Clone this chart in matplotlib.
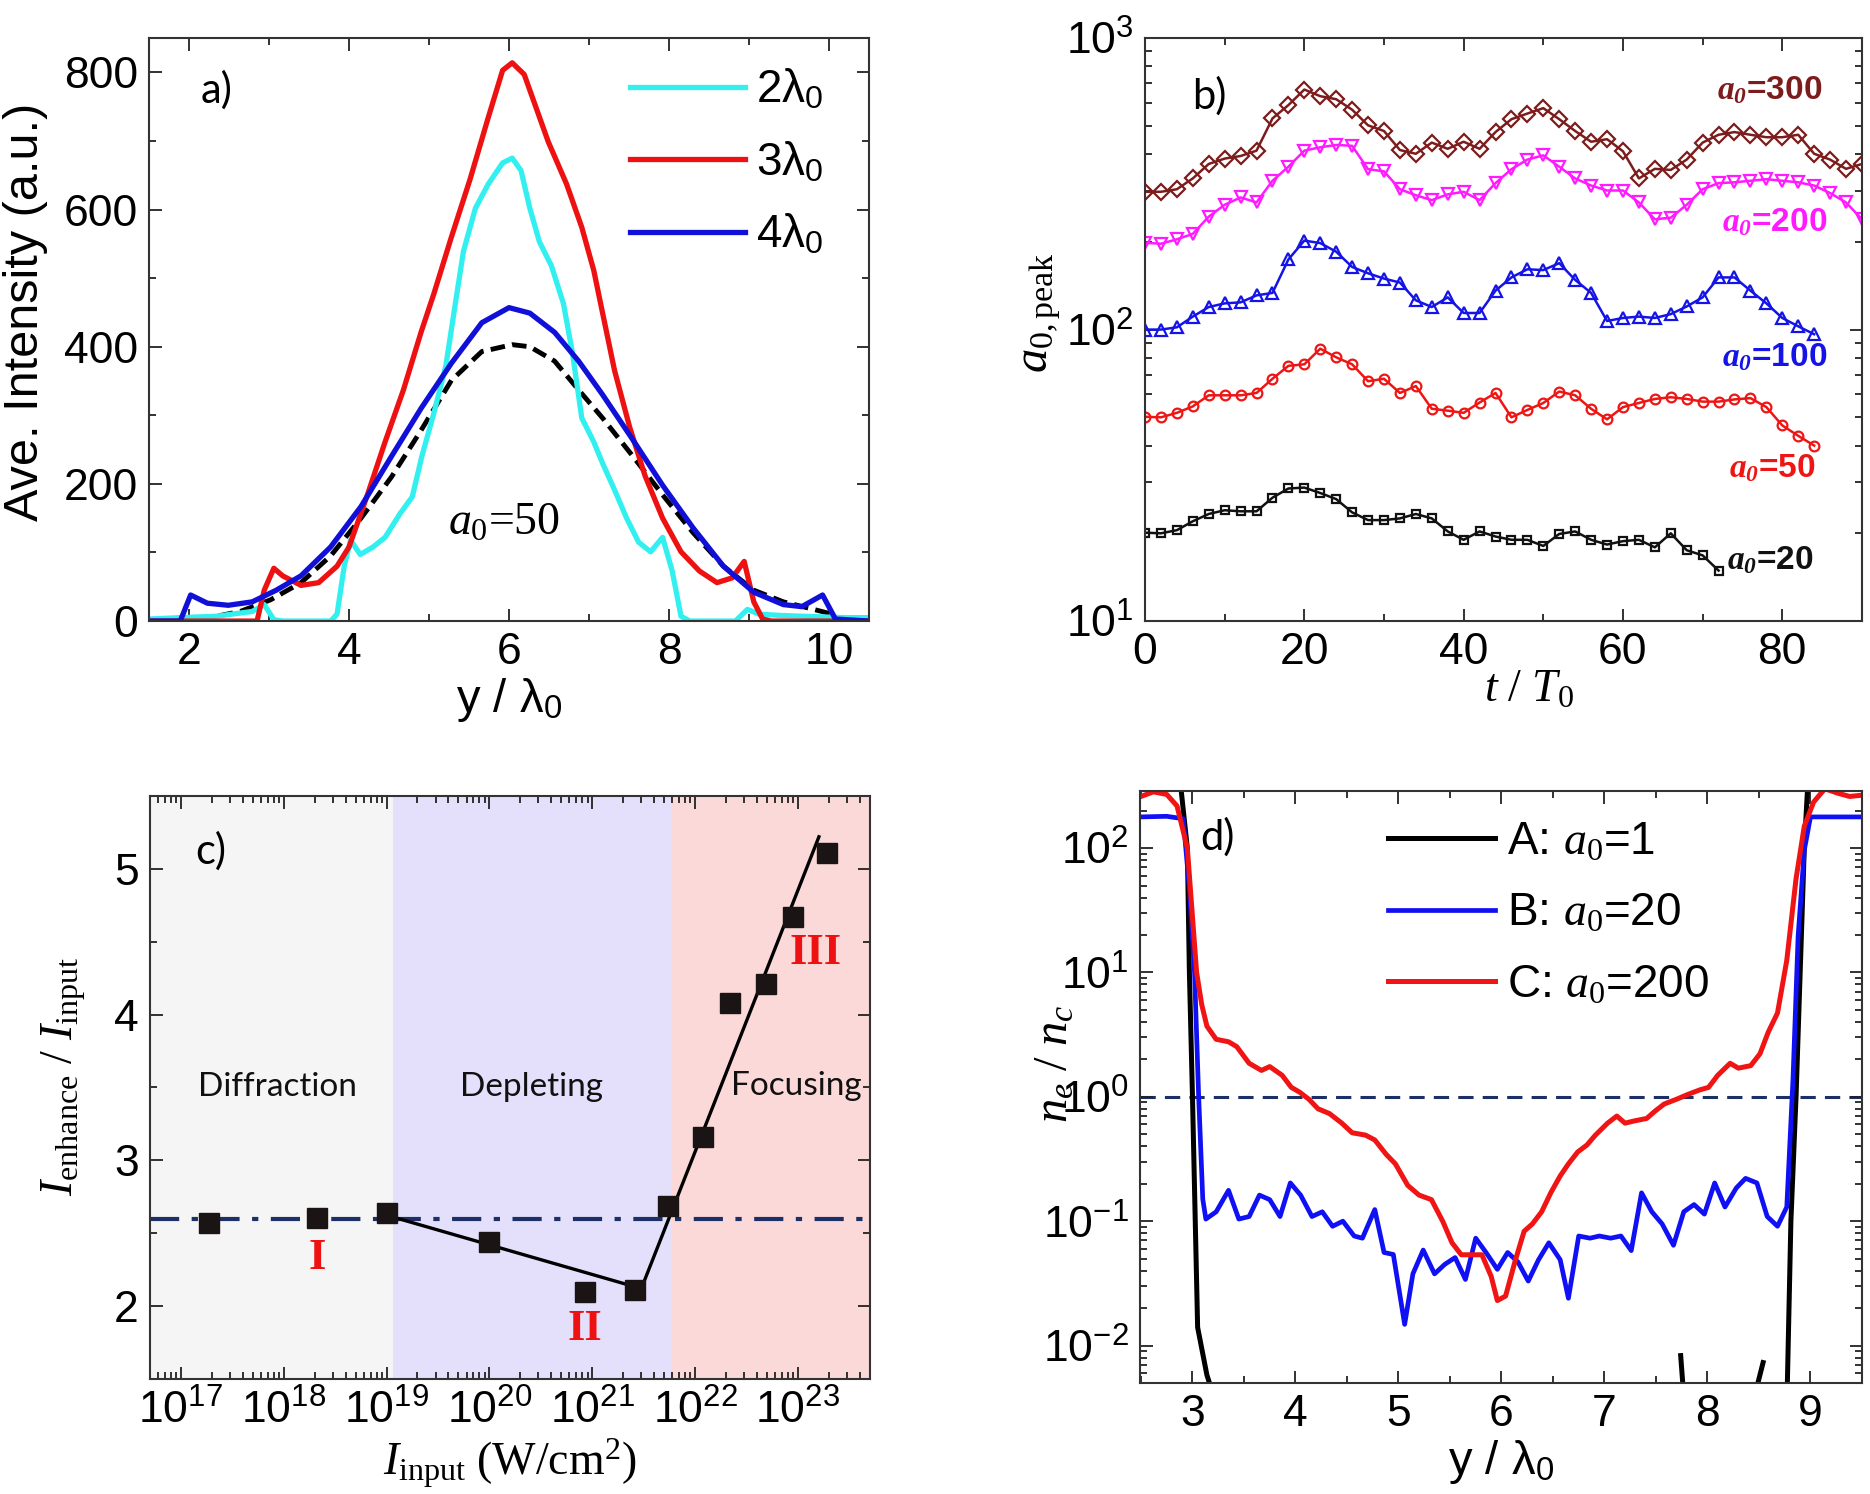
import numpy as np
import matplotlib
matplotlib.use('Agg')
import matplotlib.pyplot as plt
from matplotlib.ticker import MultipleLocator, LogLocator, NullFormatter

plt.rcParams['font.family'] = ['Liberation Sans', 'DejaVu Sans']
plt.rcParams['mathtext.fontset'] = 'custom'
plt.rcParams['mathtext.rm'] = 'Liberation Serif'
plt.rcParams['mathtext.it'] = 'Liberation Serif:italic'
plt.rcParams['mathtext.bf'] = 'Liberation Serif:italic:bold'
plt.rcParams['mathtext.sf'] = 'Liberation Sans'

# ---- panel a: averaged intensity profiles ----
x_ref = [2.1, 2.3, 2.64, 3.02, 3.4, 3.77, 4.15, 4.53, 4.9, 5.28, 5.66, 6.04, 6.26, 6.57, 6.87,
         7.17, 7.55, 7.92, 8.3, 8.68, 9.06, 9.43, 9.81, 10.04]
y_ref = [3, 6, 14, 31, 56, 95, 150, 210, 278, 351, 393, 403, 400, 379, 337,
         296, 240, 184, 129, 80, 45, 28, 17, 10]

x_2l = [1.5, 1.89, 2.34, 2.79, 2.94, 3.06, 3.17, 3.77, 3.85, 3.94, 4.02, 4.14, 4.3, 4.45, 4.64,
        4.79, 4.91, 5.06, 5.21, 5.32, 5.43, 5.58, 5.74, 5.92, 6.04, 6.15, 6.26, 6.38, 6.53, 6.68,
        6.79, 6.91, 7.06, 7.17, 7.32, 7.47, 7.62, 7.77, 7.92, 8.04, 8.15, 8.26, 8.83, 8.98, 9.13,
        9.43, 10.19, 10.5]
y_2l = [3, 5, 7, 14, 24, 2, 0, 0, 10, 80, 118, 97, 108, 122, 157,
        181, 240, 303, 372, 456, 539, 602, 637, 668, 675, 657, 602, 553, 518, 463,
        393, 296, 261, 230, 191, 150, 115, 101, 122, 73, 7, 0, 0, 17, 10,
        8, 5, 5]

x_3l = [1.5, 2.85, 2.94, 3.06, 3.17, 3.4, 3.62, 3.85, 4.0, 4.23, 4.45, 4.68, 4.9, 5.06, 5.28,
        5.51, 5.74, 5.92, 6.04, 6.19, 6.34, 6.49, 6.72, 6.91, 7.06, 7.17, 7.32, 7.51, 7.7, 7.92,
        8.15, 8.38, 8.6, 8.79, 8.94, 9.06, 9.17, 9.28, 10.5]
y_3l = [0, 0, 45, 77, 66, 52, 56, 80, 108, 184, 261, 337, 421, 477, 560,
        643, 734, 803, 814, 797, 748, 699, 637, 574, 511, 449, 365, 282, 212, 150,
        101, 73, 56, 63, 87, 28, 3, 0, 0]

x_4l = [1.5, 1.89, 2.02, 2.23, 2.49, 2.79, 3.09, 3.4, 3.77, 4.15, 4.53, 4.9, 5.28, 5.66, 6.0,
        6.26, 6.57, 6.87, 7.17, 7.55, 7.92, 8.3, 8.68, 9.06, 9.43, 9.66, 9.92, 10.08, 10.5]
y_4l = [0, 0, 38, 26, 23, 28, 45, 66, 108, 167, 240, 310, 376, 435, 457,
        449, 421, 379, 330, 264, 198, 136, 80, 42, 24, 21, 38, 3, 0]

# ---- panel b: peak amplitude vs time ----
t_b = np.arange(0, 92, 2)
a20 = [20.1, 20, 20.5, 22, 23.3, 24, 23.8, 23.8, 26.5, 28.5, 28.7, 27.5, 26.2, 23.6, 22.2,
       22.2, 22.5, 23.3, 22.5, 20.3, 19.0, 20.3, 19.5, 19, 19, 18.1, 19.9, 20.3, 19, 18.3,
       18.8, 19, 17.9, 20, 17.5, 16.8, 14.9]
a50 = [50.2, 50, 51.8, 54.5, 59.5, 59.5, 59.5, 60.6, 67.8, 75.1, 76, 86, 80.3, 76, 66.5,
       67.8, 60.6, 64, 53.5, 52.7, 51.8, 56.2, 60.6, 50, 53, 56, 61.3, 59.5, 53.5, 49.2,
       54.2, 56, 57.8, 58.6, 57.8, 56.6, 56.6, 57.6, 58.2, 54.2, 46.9, 43.2, 40.0]
a100 = [100, 100, 101.8, 110.8, 119.5, 123, 124, 131, 133.6, 174, 202, 198, 185, 164, 156,
        149.6, 145, 126, 119.5, 129, 114, 114, 136, 151, 161, 160, 169, 148, 133.6, 107,
        109.6, 110.8, 109.6, 113, 120, 129, 151, 151, 136, 123, 109.6, 102.6, 96.4]
a200 = [198.6, 197, 204, 213, 244, 268, 284, 273, 324, 362, 411, 422, 430, 427, 355,
        349, 303, 289, 278, 291, 297, 278, 318, 355, 383, 396, 362, 330, 312, 300,
        300, 273, 239, 242, 268, 303, 318, 320, 324, 328, 324, 320, 312, 294, 273, 239]
a300 = [297, 297, 303, 330, 370, 386, 394, 411, 530, 589, 666, 632, 617, 568, 502,
        480, 413, 401, 438, 417, 441, 417, 476, 527, 551, 575, 527, 480, 441, 450,
        409, 330, 356, 353, 383, 438, 466, 476, 466, 457, 457, 466, 401, 383, 356, 370]

# ---- panel c: enhancement ratio vs input intensity ----
I_in = [1.9e17, 2.1e18, 1.0e19, 1.0e20, 8.5e20, 2.6e21, 5.5e21, 1.2e22, 2.2e22, 4.9e22, 9e22, 1.9e23]
ratio = [2.57, 2.605, 2.64, 2.44, 2.10, 2.11, 2.69, 3.16, 4.08, 4.21, 4.67, 5.11]
fit_x = [9.3e18, 3.0e21, 1.6e23]
fit_y = [2.63, 2.12, 5.22]
ratio_ref = 2.6
region_edges = [1e16, 1.15e19, 5.9e21, 1e24]
region_names = ['Diffraction', 'Depleting', 'Focusing']

# ---- panel d: density profiles ----
x_A = [2.5, 2.86, 2.95, 2.97, 3.0, 3.05, 3.14, 3.25, np.nan, 7.74, 7.78, np.nan, 8.46, 8.54, np.nan,
       8.77, 8.81, 8.86, 8.90, 8.94, 8.98, 9.05, 9.5]
y_A = [500, 500, 100, 10, 1.0, 0.014, 0.0058, 0.003, np.nan, 0.0083, 0.003, np.nan, 0.004, 0.0073, np.nan,
       0.003, 0.1, 1.0, 10, 100, 400, 500, 500]
x_B = [2.5, 2.75, 2.91, 2.97, 3.02, 3.06, 3.10, 3.13, 3.23, 3.35, 3.45, 3.55, 3.65, 3.75, 3.85,
       3.95, 4.05, 4.16, 4.26, 4.36, 4.46, 4.57, 4.65, 4.77, 4.86, 4.95, 5.06, 5.14, 5.24, 5.35,
       5.45, 5.55, 5.65, 5.75, 5.85, 5.96, 6.06, 6.16, 6.26, 6.36, 6.46, 6.57, 6.65, 6.75, 6.86,
       6.95, 7.06, 7.16, 7.26, 7.36, 7.46, 7.56, 7.67, 7.77, 7.87, 7.97, 8.07, 8.17, 8.28, 8.37,
       8.48, 8.58, 8.68, 8.77, 8.83, 8.88, 8.94, 9.0, 9.5]
y_B = [178, 180, 172, 47, 10, 1.0, 0.15, 0.104, 0.119, 0.177, 0.104, 0.109, 0.162, 0.149, 0.109,
       0.203, 0.162, 0.109, 0.119, 0.091, 0.100, 0.076, 0.073, 0.124, 0.056, 0.054, 0.0148, 0.0377, 0.0586, 0.0377,
       0.045, 0.051, 0.034, 0.073, 0.056, 0.041, 0.056, 0.047, 0.033, 0.049, 0.067, 0.049, 0.024, 0.076, 0.073,
       0.076, 0.073, 0.076, 0.058, 0.169, 0.119, 0.095, 0.064, 0.119, 0.136, 0.114, 0.203, 0.130, 0.185, 0.221,
       0.203, 0.109, 0.091, 0.130, 1.36, 19.5, 96, 178, 178]
x_C = [2.5, 2.62, 2.75, 2.85, 2.95, 3.04, 3.09, 3.14, 3.23, 3.35, 3.43, 3.55, 3.67, 3.75, 3.87,
       3.96, 4.04, 4.13, 4.22, 4.33, 4.45, 4.55, 4.68, 4.77, 4.88, 4.97, 5.09, 5.20, 5.32, 5.43,
       5.52, 5.61, 5.70, 5.81, 5.90, 5.96, 6.04, 6.13, 6.22, 6.30, 6.39, 6.48, 6.57, 6.65, 6.74,
       6.83, 6.91, 7.03, 7.12, 7.20, 7.29, 7.41, 7.49, 7.58, 7.70, 7.81, 7.93, 8.01, 8.10, 8.22,
       8.30, 8.42, 8.51, 8.59, 8.68, 8.77, 8.86, 8.94, 9.03, 9.14, 9.26, 9.38, 9.5]
y_C = [260, 283, 270, 218, 100, 10, 5.5, 3.7, 2.9, 2.77, 2.53, 1.86, 1.63, 1.75, 1.49,
       1.19, 1.09, 0.956, 0.80, 0.733, 0.614, 0.514, 0.492, 0.45, 0.345, 0.289, 0.194, 0.162, 0.149, 0.0996,
       0.067, 0.0537, 0.0537, 0.0537, 0.036, 0.023, 0.025, 0.047, 0.083, 0.095, 0.119, 0.17, 0.231, 0.289, 0.36,
       0.41, 0.49, 0.614, 0.70, 0.614, 0.64, 0.67, 0.766, 0.875, 0.956, 1.045, 1.14, 1.19, 1.49, 1.86,
       1.70, 1.78, 2.22, 3.31, 4.72, 12.5, 56.6, 150, 234, 300, 277, 260, 266]

NAVY = '#1c2f66'
TICK_FS = 32
LABEL_FS = 34


def style_axes(ax):
    ax.tick_params(which='both', direction='in', top=True, right=True,
                   labelsize=TICK_FS, pad=8, width=1.3, colors='#222222', labelcolor='black')
    ax.tick_params(which='major', length=9)
    ax.tick_params(which='minor', length=5)
    for s in ax.spines.values():
        s.set_linewidth(1.5)
        s.set_color('#333333')


fig = plt.figure(figsize=(18.7, 14.94), dpi=100)

# ---------------- a ----------------
ax = fig.add_axes([0.0797, 0.5843, 0.3850, 0.3902])
ax.plot(x_ref, y_ref, '--', color='black', lw=3.5, dashes=(3, 1.5))
ax.plot(x_2l, y_2l, color='#33f0f0', lw=3.8, label='2λ$_\\mathsf{0}$')
ax.plot(x_3l, y_3l, color='#ee1111', lw=3.8, label='3λ$_\\mathsf{0}$')
ax.plot(x_4l, y_4l, color='#1010d8', lw=3.8, label='4λ$_\\mathsf{0}$')
ax.set_xlim(1.5, 10.5)
ax.set_ylim(0, 850)
ax.xaxis.set_major_locator(MultipleLocator(2))
ax.xaxis.set_minor_locator(MultipleLocator(1))
ax.yaxis.set_major_locator(MultipleLocator(200))
ax.yaxis.set_minor_locator(MultipleLocator(100))
style_axes(ax)
ax.set_xlabel('y / λ$_\\mathsf{0}$', fontsize=LABEL_FS, labelpad=2)
ax.set_ylabel('Ave. Intensity (a.u.)', fontsize=35)
ax.yaxis.set_label_coords(-0.14, 0.53)
ax.legend(loc='upper left', bbox_to_anchor=(0.668, 0.948), frameon=False, fontsize=33,
          handlelength=2.5, handletextpad=0.25, labelspacing=0.62, borderpad=0, borderaxespad=0)
ax.text(2.34, 775, 'a)', fontsize=30, family='Lato', ha='center', va='center')
ax.text(5.94, 142, r'$\mathit{a_0}$=50', fontsize=33, family='Liberation Serif',
        ha='center', va='center')

# ---------------- b ----------------
ax = fig.add_axes([0.6123, 0.5843, 0.3834, 0.3902])
series_b = [(a300, 'D', '#7d1c1c', '300', 663, 85.0),
            (a200, 'v', '#ff1aff', '200', 234, 85.6),
            (a100, '^', '#1414e6', '100', 80.6, 85.6),
            (a50, 'o', '#ee1515', '50', 33.5, 84.2),
            (a20, 's', '#111111', '20', 16.2, 84.0)]
msize = {'D': 8, 'v': 8.5, '^': 8.5, 'o': 7, 's': 6}
for vals, mk, col, lab, ty, tx in series_b:
    ax.plot(t_b[:len(vals)], vals, marker=mk, color=col, mfc='none', mec=col,
            ms=msize[mk], mew=1.6, lw=1.8)
    ax.text(tx, ty, r'$\mathbf{a_0}$=' + lab, color=col, fontsize=24, fontweight='bold',
            ha='right', va='center')
ax.set_yscale('log')
ax.set_xlim(0, 90)
ax.set_ylim(10, 1000)
ax.xaxis.set_major_locator(MultipleLocator(20))
ax.xaxis.set_minor_locator(MultipleLocator(10))
style_axes(ax)
ax.set_xlabel(r'$t\ /\ T_{\mathit{0}}$', fontsize=33)
ax.xaxis.set_label_coords(0.535, -0.08)
ax.set_ylabel(r'$a_{\mathrm{0,peak}}$', fontsize=35)
ax.yaxis.set_label_coords(-0.114, 0.53)
ax.text(0.09, 0.9, 'b)', transform=ax.transAxes, fontsize=30, family='Lato',
        ha='center', va='center')

# ---------------- c ----------------
ax = fig.add_axes([0.0802, 0.0770, 0.3850, 0.3902])
region_cols = ['#f5f5f5', '#e4e0fb', '#fcd9d9']
for i, col in enumerate(region_cols):
    ax.axvspan(region_edges[i], region_edges[i + 1], color=col, lw=0, zorder=0)
ax.axhline(ratio_ref, color=NAVY, lw=3, dashes=(7, 3, 1.5, 3), zorder=1)
ax.plot(fit_x, fit_y, color='black', lw=2.4, zorder=2)
ax.plot(I_in, ratio, 's', color='#1a1414', ms=15, zorder=3)
ax.set_xscale('log')
ax.set_xlim(10 ** 16.7, 10 ** 23.7)
ax.set_ylim(1.5, 5.5)
ax.xaxis.set_major_locator(LogLocator(base=10, numticks=20))
ax.xaxis.set_minor_locator(LogLocator(base=10, subs=np.arange(2, 10), numticks=200))
ax.xaxis.set_minor_formatter(NullFormatter())
ax.yaxis.set_major_locator(MultipleLocator(1))
ax.yaxis.set_minor_locator(MultipleLocator(0.5))
style_axes(ax)
ax.set_xlabel(r'$I_{\mathrm{input}}\ \mathrm{(W/cm^2)}$', fontsize=33, labelpad=2)
ax.set_ylabel(r'$I_{\mathrm{enhance}}\ /\ I_{\mathrm{input}}$', fontsize=33)
ax.yaxis.set_label_coords(-0.086, 0.52)
name_pos = [(10 ** 17.94, 3.5), (10 ** 20.41, 3.5), (10 ** 22.98, 3.51)]
for name, (px, py) in zip(region_names, name_pos):
    ax.text(px, py, name, fontsize=24, family='Lato', ha='center', va='center', color='#111111')
roman = [('I', 10 ** 18.33, 2.33), ('II', 10 ** 20.93, 1.84), ('III', 10 ** 23.17, 4.42)]
for lab, px, py in roman:
    ax.text(px, py, lab, fontsize=32, family='Liberation Serif', fontweight='bold',
            color='#ee1111', ha='center', va='center')
ax.text(10 ** 17.29, 5.12, 'c)', fontsize=30, family='Lato', ha='center', va='center')

# ---------------- d ----------------
ax = fig.add_axes([0.6096, 0.0743, 0.3861, 0.3963])
ax.axhline(1.0, color=NAVY, lw=2.2, dashes=(5, 3), zorder=1)
ax.plot(x_A, y_A, color='black', lw=3.6, label=r'A: $\mathit{a_0}$=1')
ax.plot(x_B, y_B, color='#1010f5', lw=3.4, label=r'B: $\mathit{a_0}$=20')
ax.plot(x_C, y_C, color='#f01414', lw=3.6, label=r'C: $\mathit{a_0}$=200')
ax.set_yscale('log')
ax.set_xlim(2.49, 9.5)
ax.set_ylim(5e-3, 288)
ax.xaxis.set_major_locator(MultipleLocator(1))
ax.xaxis.set_minor_locator(MultipleLocator(0.5))
ax.yaxis.set_major_locator(LogLocator(base=10, numticks=20))
ax.yaxis.set_minor_locator(LogLocator(base=10, subs=np.arange(2, 10), numticks=200))
ax.yaxis.set_minor_formatter(NullFormatter())
style_axes(ax)
ax.set_xlabel('y / λ$_\\mathsf{0}$', fontsize=LABEL_FS, labelpad=2)
ax.set_ylabel(r'$n_e\ /\ n_c$', fontsize=35)
ax.yaxis.set_label_coords(-0.087, 0.539)
ax.legend(loc='upper left', bbox_to_anchor=(0.343, 0.95), frameon=False, fontsize=33,
          handlelength=2.35, handletextpad=0.25, labelspacing=0.6, borderpad=0, borderaxespad=0)
ax.text(3.24, 122, 'd)', fontsize=30, family='Lato', ha='center', va='center')

fig.savefig('out.png', dpi=100)
